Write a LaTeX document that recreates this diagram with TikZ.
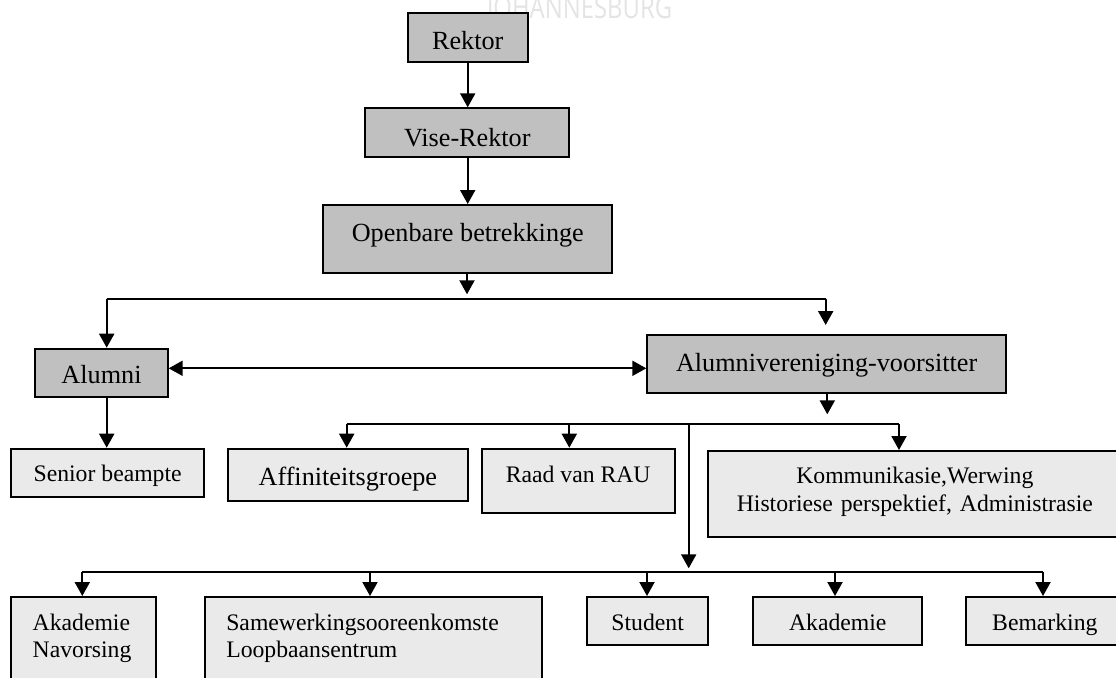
\documentclass[tikz,border=0pt]{standalone}
\usepackage{graphicx}
\usepackage{fontspec}
\setmainfont{Liberation Serif}
\newfontfamily\wmfont{Open Sans}
\usetikzlibrary{arrows.meta}
\definecolor{darkbox}{HTML}{C0C0C0}
\definecolor{lightbox}{HTML}{EAEAEA}
\definecolor{wmark}{HTML}{E4E4E4}
\begin{document}
\begin{tikzpicture}[x=0.5pt,y=-0.5pt,
  box/.style={draw=black, line width=1pt, inner xsep=0pt, inner ysep=0pt, anchor=north west},
  dbox/.style={box, fill=darkbox, font=\fontsize{13.1}{15}\selectfont},
  lbox/.style={box, fill=lightbox, font=\fontsize{11.85}{13.85}\selectfont},
  link/.style={line width=1pt},
  arr/.style={link, -{Triangle[width=7.5pt,length=7pt]}},
  dblarr/.style={link, {Triangle[width=7.5pt,length=7pt]}-{Triangle[width=7.5pt,length=7pt]}}]
\useasboundingbox (0,0) rectangle (1116,677);
\clip (0,0) rectangle (1116,677);

% watermark
\node[anchor=base west, inner sep=0pt, text=wmark] (wm) at (486.7,18) {\resizebox{92.5pt}{11pt}{\wmfont JOHANNESBURG}};

% top chain
\node[dbox, minimum width=60pt, text height=18.3pt, text depth=6.2pt] (rektor) at (406.7,11.7) {Rektor};
\node[dbox, minimum width=102pt, text height=19.1pt, text depth=5.25pt] (vise) at (364.3,107.3) {Vise-Rektor};
\node[dbox, minimum width=144.5pt, text height=18.25pt, text depth=15.6pt] (open) at (322.3,204) {Openbare betrekkinge};

% second level
\node[dbox, minimum width=66.2pt, text height=17.5pt, text depth=6.65pt] (alumni) at (34.3,347.7) {Alumni};
\node[dbox, minimum width=179.35pt, text height=18pt, text depth=11pt] (avv) at (646.3,334) {Alumnivereniging-voorsitter};

% third level
\node[lbox, minimum width=96.35pt, text height=16.15pt, text depth=7.85pt] (senior) at (10.3,447.7) {Senior beampte};
\node[lbox, minimum width=120.15pt, text height=18.15pt, text depth=8pt, font=\fontsize{13.1}{15}\selectfont] (affin) at (226.7,447.7) {Affiniteitsgroepe};
\node[lbox, minimum width=96.5pt, text height=16.65pt, text depth=15.5pt] (raad) at (480.7,447.7) {Raad van RAU};
\node[lbox, minimum width=207.15pt, text width=190pt, align=center, text height=16.15pt, text depth=26.7pt] (komm) at (706.7,450) {Kommunikasie,Werwing\\Historiese perspektief, Administrasie};

% bottom row
\node[lbox, text width=50.95pt, inner xsep=10.7pt, align=left, text height=16.5pt, text depth=35.5pt] (aknav) at (10.3,596) {Akademie\\Navorsing};
\node[lbox, text width=147.1pt, inner xsep=10.5pt, align=left, text height=16.5pt, text depth=35.5pt] (samew) at (204.3,596) {Samewerkingsooreenkomste\\Loopbaansentrum};
\node[lbox, minimum width=60.35pt, text height=16.5pt, text depth=7.65pt] (student) at (586.3,596) {Student};
\node[lbox, minimum width=84.5pt, text height=16.5pt, text depth=7.65pt] (akad) at (752.3,596) {Akademie};
\node[lbox, minimum width=79.15pt, text height=16.5pt, text depth=7.65pt] (bemark) at (964.7,596) {Bemarking};

% helper coordinates
\coordinate (t1) at (467,294.3);
\coordinate (b1L) at (106.7,299.3);
\coordinate (b1R) at (825.7,299.3);
\coordinate (t2) at (825.7,325);
\coordinate (dbl) at (400,368.3);
\coordinate (t3) at (827.3,414.3);
\coordinate (b2L) at (346.7,424);
\coordinate (b2M) at (569.3,424);
\coordinate (b2V) at (688.7,424);
\coordinate (b2R) at (899,424);
\coordinate (t4) at (688.7,568.3);
\coordinate (b3L) at (82.3,571.7);
\coordinate (b3S) at (370,571.7);
\coordinate (b3T) at (647,571.7);
\coordinate (b3A) at (835,571.7);
\coordinate (b3R) at (1043,571.7);

% connectors
\draw[arr] (rektor.south) -- (rektor.south |- vise.north);
\draw[arr] (vise.south -| rektor.south) -- (rektor.south |- open.north);
\draw[arr] (open.south -| t1) -- (t1);
\draw[link] (b1L) -- (b1R);
\draw[arr] (b1L) -- (b1L |- alumni.north);
\draw[arr] (b1R) -- (t2);
\draw[dblarr] (alumni.east |- dbl) -- (avv.west |- dbl);
\draw[arr] (alumni.south -| b1L) -- (b1L |- senior.north);
\draw[arr] (avv.south -| t3) -- (t3);
\draw[link] (b2L) -- (b2R);
\draw[arr] (b2L) -- (b2L |- affin.north);
\draw[arr] (b2M) -- (b2M |- raad.north);
\draw[arr] (b2R) -- (b2R |- komm.north);
\draw[arr] (b2V) -- (t4);
\draw[link] (b3L) -- (b3R);
\draw[arr] (b3L) -- (b3L |- aknav.north);
\draw[arr] (b3S) -- (b3S |- samew.north);
\draw[arr] (b3T) -- (b3T |- student.north);
\draw[arr] (b3A) -- (b3A |- akad.north);
\draw[arr] (b3R) -- (b3R |- bemark.north);
\end{tikzpicture}
\end{document}
